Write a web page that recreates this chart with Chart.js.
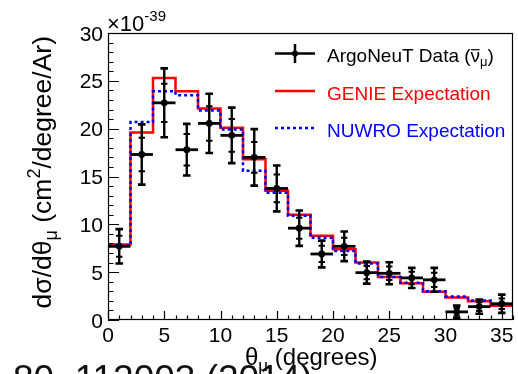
<!DOCTYPE html>
<html>
<head>
<meta charset="utf-8">
<style>
  html, body { margin: 0; padding: 0; background: #ffffff; }
  #wrap { width: 518px; height: 374px; position: relative; }
</style>
<script src="https://cdn.jsdelivr.net/npm/chart.js@4.4.0/dist/chart.umd.min.js"></script>
</head>
<body>
<div id="wrap"><canvas id="c" width="518" height="374"></canvas></div>
<script>
// Muon angle bins (degrees)
const binEdges   = [0, 2, 4, 6, 8, 10, 12, 14, 16, 18, 20, 22, 24, 26, 28, 30, 32, 34, 36];
const binCenters = [1, 3, 5, 7, 9, 11, 13, 15, 17, 19, 21, 23, 25, 27, 29, 31, 33, 35];
const binHalfWidth = 1;

// ArgoNeuT antineutrino data, units of 1e-39 cm^2/degree/Ar
const dataValues  = [7.7, 17.3, 22.7, 17.8, 20.55, 19.3, 17.0, 13.75, 9.6, 6.9, 7.7, 4.95, 4.88, 4.4, 4.2, 0.85, 1.4, 1.7];
const statErrors  = [1.1, 1.75, 2.0, 1.65, 1.8, 1.7, 1.6, 1.45, 1.1, 0.85, 0.9, 0.7, 0.7, 0.65, 0.75, 0.4, 0.45, 0.55];
const totalErrors = [1.8, 3.15, 3.6, 2.7, 3.1, 2.9, 2.95, 2.4, 1.85, 1.4, 1.55, 1.15, 1.15, 1.05, 1.25, 0.65, 0.75, 0.95];

// Generator expectations per bin
const genieValues = [7.9, 19.6, 25.3, 23.9, 22.1, 20.1, 16.8, 13.5, 11.0, 8.8, 7.4, 6.0, 4.5, 3.85, 2.95, 2.35, 1.95, 1.5];
const nuwroValues = [7.8, 20.7, 23.9, 23.5, 21.9, 19.9, 15.6, 13.3, 10.9, 8.6, 7.2, 5.9, 4.5, 3.9, 3.0, 2.45, 2.05, 1.65];

// Axis tick labels
const xTickLabels = ['0', '5', '10', '15', '20', '25', '30', '35'];
const yTickLabels = ['0', '5', '10', '15', '20', '25', '30'];

const FONT = '"Liberation Sans", Arial, Helvetica, sans-serif';

function stepPoints(values) {
  return binEdges.map((e, i) => ({ x: e, y: values[Math.min(i, values.length - 1)] }));
}

// Draw a run of text pieces (with sub/superscripts) starting at x along the baseline y
function drawRich(ctx, parts, x, y, align) {
  let total = 0;
  parts.forEach(p => { ctx.font = p.size + 'px ' + FONT; total += ctx.measureText(p.t).width; });
  let cx = align === 'right' ? x - total : x;
  ctx.textAlign = 'left';
  ctx.textBaseline = 'alphabetic';
  parts.forEach(p => {
    ctx.font = p.size + 'px ' + FONT;
    const w = ctx.measureText(p.t).width;
    ctx.fillText(p.t, cx, y + (p.dy || 0));
    if (p.bar) {
      ctx.save();
      ctx.strokeStyle = ctx.fillStyle;
      ctx.lineWidth = 1.2;
      ctx.beginPath();
      ctx.moveTo(cx + 0.5, y - p.size * 0.62);
      ctx.lineTo(cx + w - 0.5, y - p.size * 0.62);
      ctx.stroke();
      ctx.restore();
    }
    cx += w;
  });
}

const errorBarPlugin = {
  id: 'errorBars',
  afterDatasetsDraw(chart) {
    const ctx = chart.ctx;
    const xs = chart.scales.x, ys = chart.scales.y;
    ctx.save();
    ctx.strokeStyle = '#000';
    ctx.lineCap = 'butt';
    binCenters.forEach((c, i) => {
      const px = xs.getPixelForValue(c);
      const py = ys.getPixelForValue(dataValues[i]);
      const xl = xs.getPixelForValue(c - binHalfWidth);
      const xr = xs.getPixelForValue(c + binHalfWidth);
      const yt = ys.getPixelForValue(dataValues[i] + totalErrors[i]);
      const yb = ys.getPixelForValue(Math.max(0, dataValues[i] - totalErrors[i]));
      const st = ys.getPixelForValue(dataValues[i] + statErrors[i]);
      const sb = ys.getPixelForValue(dataValues[i] - statErrors[i]);
      ctx.lineWidth = 2.8;
      ctx.beginPath();
      ctx.moveTo(xl, py); ctx.lineTo(xr, py);
      ctx.stroke();
      ctx.lineWidth = 2.4;
      ctx.beginPath();
      ctx.moveTo(px, yt); ctx.lineTo(px, yb);
      ctx.stroke();
      // caps for total and statistical errors
      ctx.lineWidth = 2.6;
      ctx.beginPath();
      ctx.moveTo(px - 3.8, yt); ctx.lineTo(px + 3.8, yt);
      ctx.moveTo(px - 3.8, yb); ctx.lineTo(px + 3.8, yb);
      ctx.stroke();
      ctx.lineWidth = 2;
      ctx.beginPath();
      ctx.moveTo(px - 3.2, st); ctx.lineTo(px + 3.2, st);
      ctx.moveTo(px - 3.2, sb); ctx.lineTo(px + 3.2, sb);
      ctx.stroke();
    });
    ctx.restore();
  }
};

const framePlugin = {
  id: 'frameAxes',
  afterDraw(chart) {
    const ctx = chart.ctx;
    const a = chart.chartArea;
    const xs = chart.scales.x, ys = chart.scales.y;
    ctx.save();
    ctx.strokeStyle = '#000';
    ctx.fillStyle = '#000';
    ctx.lineWidth = 1.2;
    ctx.strokeRect(a.left + 0.5, a.top + 0.5, a.right - a.left - 1, a.bottom - a.top - 1);

    // x ticks, pointing into the plot
    ctx.lineWidth = 1.2;
    ctx.beginPath();
    for (let v = xs.min; v <= xs.max; v += 1) {
      const px = Math.round(xs.getPixelForValue(v)) + 0.5;
      const len = v % 5 === 0 ? 9 : 4.5;
      ctx.moveTo(px, a.bottom);
      ctx.lineTo(px, a.bottom - len);
    }
    // y ticks
    for (let v = ys.min; v <= ys.max; v += 1) {
      const py = Math.round(ys.getPixelForValue(v)) + 0.5;
      const len = v % 5 === 0 ? 11 : 5.5;
      ctx.moveTo(a.left, py);
      ctx.lineTo(a.left + len, py);
    }
    ctx.stroke();

    // tick labels
    ctx.font = '21px ' + FONT;
    ctx.textBaseline = 'alphabetic';
    ctx.textAlign = 'center';
    xTickLabels.forEach(t => {
      ctx.fillText(t, xs.getPixelForValue(Number(t)), a.bottom + 22);
    });
    ctx.textAlign = 'right';
    yTickLabels.forEach(t => {
      ctx.fillText(t, a.left - 5, ys.getPixelForValue(Number(t)) + 7.5);
    });

    // exponent label
    ctx.textAlign = 'left';
    ctx.font = '22px ' + FONT;
    ctx.fillText('\u00d710', a.left - 1, 31);
    const w10 = ctx.measureText('\u00d710').width;
    ctx.font = '15px ' + FONT;
    ctx.fillText('-39', a.left - 1 + w10, 21);

    // x title
    drawRich(ctx, [
      { t: '\u03b8', size: 24 },
      { t: '\u03bc', size: 17, dy: 6 },
      { t: ' (degrees)', size: 24 }
    ], 245, 365, 'left');

    // y title (rotated)
    ctx.save();
    ctx.translate(51, 36);
    ctx.rotate(-Math.PI / 2);
    drawRich(ctx, [
      { t: 'd\u03c3/d\u03b8', size: 26.5 },
      { t: '\u03bc', size: 18, dy: 6 },
      { t: ' (cm', size: 26.5 },
      { t: '2', size: 18, dy: -11 },
      { t: '/degree/Ar)', size: 26.5 }
    ], 0, 0, 'right');
    ctx.restore();

    // legend
    const lx0 = 275, lx1 = 315, tx = 327;
    ctx.lineWidth = 2.5;
    ctx.strokeStyle = '#000';
    ctx.beginPath();
    ctx.moveTo(lx0, 53.5); ctx.lineTo(lx1, 53.5);
    ctx.moveTo(295, 44); ctx.lineTo(295, 63);
    ctx.stroke();
    ctx.beginPath();
    ctx.arc(295, 53.5, 3, 0, Math.PI * 2);
    ctx.fill();
    ctx.fillStyle = '#000';
    drawRich(ctx, [
      { t: 'ArgoNeuT Data (', size: 19 },
      { t: '\u03bd', size: 19, bar: true },
      { t: '\u03bc', size: 13, dy: 4 },
      { t: ')', size: 19 }
    ], tx, 61.5, 'left');

    ctx.strokeStyle = '#ff0000';
    ctx.beginPath();
    ctx.moveTo(lx0, 91); ctx.lineTo(lx1, 91);
    ctx.stroke();
    ctx.fillStyle = '#ff0000';
    drawRich(ctx, [{ t: 'GENIE Expectation', size: 19 }], tx, 100, 'left');

    ctx.strokeStyle = '#0000ff';
    ctx.setLineDash([3, 3]);
    ctx.beginPath();
    ctx.moveTo(lx0, 128); ctx.lineTo(lx1, 128);
    ctx.stroke();
    ctx.setLineDash([]);
    ctx.fillStyle = '#0000ff';
    drawRich(ctx, [{ t: 'NUWRO Expectation', size: 19 }], tx, 136.5, 'left');

    // journal reference line along the bottom edge
    ctx.fillStyle = '#111';
    ctx.font = '37px ' + FONT;
    ctx.textAlign = 'left';
    ctx.fillText('80, 112003 (2014)', 13, 391);
    ctx.restore();
  }
};

new Chart(document.getElementById('c'), {
  type: 'line',
  data: {
    datasets: [
      {
        label: 'ArgoNeuT Data',
        data: binCenters.map((c, i) => ({ x: c, y: dataValues[i] })),
        showLine: false,
        pointRadius: 3.4,
        pointBackgroundColor: '#000',
        pointBorderColor: '#000',
        pointBorderWidth: 0
      },
      {
        label: 'NUWRO Expectation',
        data: stepPoints(nuwroValues),
        stepped: 'before',
        borderColor: '#0000ff',
        borderWidth: 2.5,
        borderDash: [3, 3],
        pointRadius: 0,
        fill: false
      },
      {
        label: 'GENIE Expectation',
        data: stepPoints(genieValues),
        stepped: 'before',
        borderColor: '#ff0000',
        borderWidth: 2.5,
        pointRadius: 0,
        fill: false
      }
    ]
  },
  options: {
    responsive: false,
    animation: false,
    devicePixelRatio: 1,
    layout: { padding: { left: 108, right: 5, top: 33, bottom: 54 } },
    scales: {
      x: { type: 'linear', min: 0, max: 36, display: false },
      y: { type: 'linear', min: 0, max: 30, display: false }
    },
    plugins: { legend: { display: false }, tooltip: { enabled: false } }
  },
  plugins: [errorBarPlugin, framePlugin]
});
</script>
</body>
</html>
